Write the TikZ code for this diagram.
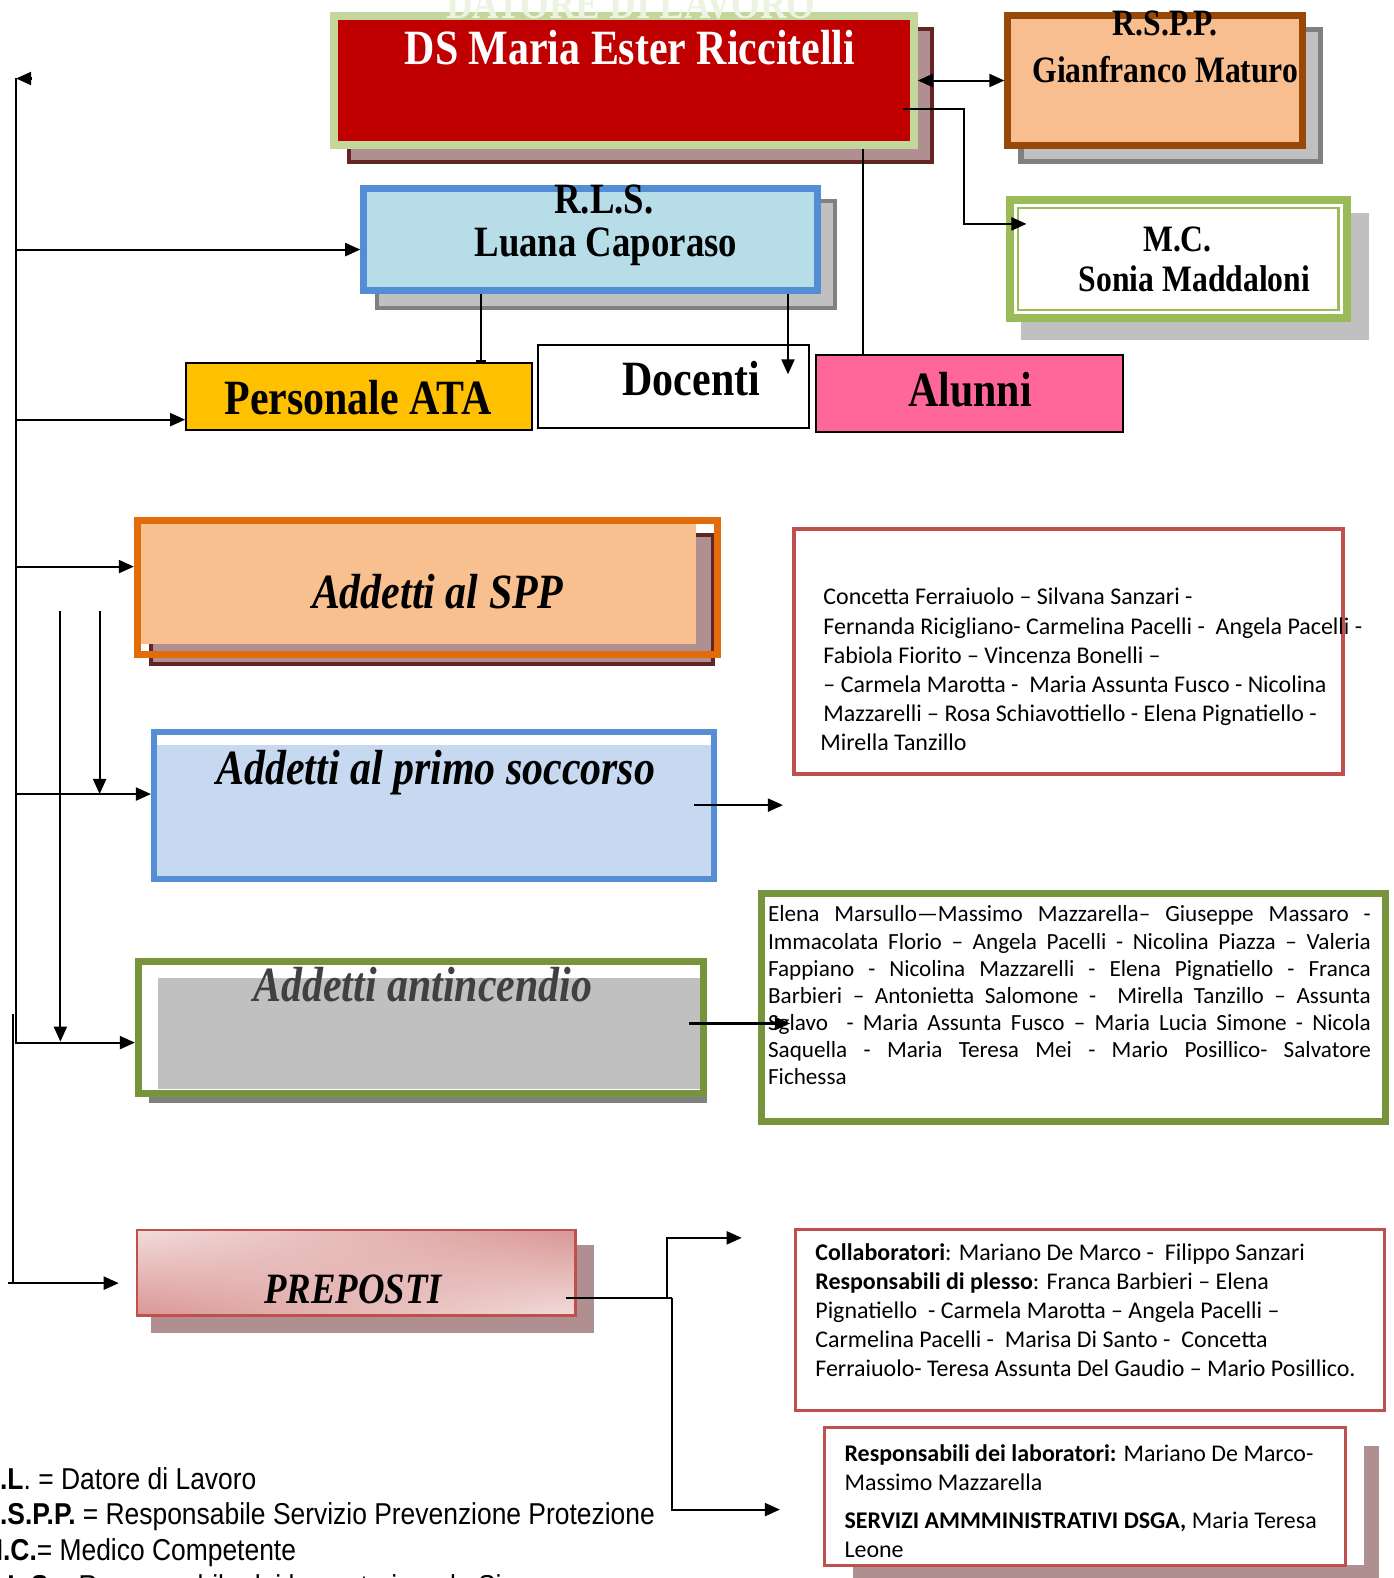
\documentclass[tikz,border=0pt]{standalone}
\usepackage{fontspec}
\setmainfont{Liberation Serif}
\newfontfamily\boxfont[FakeStretch=0.85]{Liberation Serif}
\newfontfamily\listfont{Carlito}
\newfontfamily\legendfont[FakeStretch=0.875]{Liberation Sans}
\usetikzlibrary{arrows.meta, shadings}
\definecolor{dsred}{HTML}{C00000}
\definecolor{dsgreen}{HTML}{C3D69B}
\definecolor{shadowrose}{HTML}{AF8F8F}
\definecolor{shadowmaroon}{HTML}{632523}
\definecolor{shadowgray}{HTML}{C0C0C0}
\definecolor{shadowdark}{HTML}{808080}
\definecolor{rsppbrown}{HTML}{984807}
\definecolor{rsppfill}{HTML}{F8BE90}
\definecolor{mcgreen}{HTML}{9BBB59}
\definecolor{rlsblue}{HTML}{538DD5}
\definecolor{rlsfill}{HTML}{B7DEE8}
\definecolor{atayellow}{HTML}{FFC000}
\definecolor{alunnipink}{HTML}{FF6699}
\definecolor{sppframe}{HTML}{E36C0A}
\definecolor{sppfill}{HTML}{F8BF8F}
\definecolor{soccblue}{HTML}{558ED5}
\definecolor{soccfill}{HTML}{C6D9F1}
\definecolor{antigreen}{HTML}{77933C}
\definecolor{prepred}{HTML}{C0504D}
\definecolor{preplight}{HTML}{F2DCDB}
\definecolor{prepdark}{HTML}{D99694}

\begin{document}
\begin{tikzpicture}[x=1pt, y=-1pt, >={Triangle[length=15pt,width=13pt]},
	box/.style = {draw, rectangle, inner sep=0pt},
	title/.style = {font=\boxfont\bfseries\fontsize{#1}{#1}\selectfont, anchor=base, inner sep=0pt},
	ititle/.style = {font=\boxfont\bfseries\itshape\fontsize{#1}{#1}\selectfont, anchor=base, inner sep=0pt},
	list/.style = {font=\listfont\fontsize{23.8}{29}\selectfont, anchor=base west, align=left, inner sep=0pt},
	legend/.style = {font=\legendfont\fontsize{30}{35}\selectfont, anchor=base west, inner sep=0pt},
	link/.style = {line width=2pt}]
	\useasboundingbox (0,0) rectangle (1385,1568);
	% datore di lavoro
	\filldraw[draw=shadowmaroon, fill=shadowrose, line width=4pt] (347,29) rectangle (926,161);
	\node[box, draw=dsgreen, fill=dsred, line width=8pt, minimum width=576pt, minimum height=128pt] (ds) at (620,80) {};
	\node[title=43, text=dsgreen!30] (datore) at (627,18) {DATORE DI LAVORO};
	\node[title=49, text=white] (dsname) at (626,64) {DS Maria Ester Riccitelli};
	% rspp
	\filldraw[draw=shadowdark, fill=shadowgray, line width=5pt] (1014.5,29.5) rectangle (1312.5,160.5);
	\node[box, draw=rsppbrown, fill=rsppfill, line width=7pt, minimum width=293pt, minimum height=129pt] (rspp) at (1148,80) {};
	\node[title=37] (rsppsigla) at (1158,35) {R.S.P.P.};
	\node[title=37] (rsppname) at (1158,82) {Gianfranco Maturo};
	% mc
	\fill[shadowgray] (1015,212) rectangle (1360,338);
	\node[box, draw=mcgreen, fill=white, line width=8pt, minimum width=334pt, minimum height=117pt] (mc) at (1171,257.5) {};
	\draw[mcgreen, line width=2pt] ([shift={(12pt,-12pt)}]mc.north west) rectangle ([shift={(-12pt,12pt)}]mc.south east);
	\node[title=37] (mcsigla) at (1170,250) {M.C.};
	\node[title=37] (mcname) at (1187,290) {Sonia Maddaloni};
	% rls
	\filldraw[draw=shadowdark, fill=shadowgray, line width=4pt] (375,200) rectangle (830,306);
	\node[box, draw=rlsblue, fill=rlsfill, line width=7pt, minimum width=451pt, minimum height=101pt] (rls) at (587,238) {};
	\node[title=43] (rlssigla) at (600,212) {R.L.S.};
	\node[title=43] (rlsname) at (602,255) {Luana Caporaso};
	% ata, docenti, alunni
	\node[box, fill=atayellow, line width=2pt, minimum width=344pt, minimum height=66pt] (ata) at (357,394) {};
	\node[title=49] (atatext) at (356,412) {Personale ATA};
	\node[box, fill=white, line width=2pt, minimum width=269pt, minimum height=82pt] (docenti) at (669.5,384) {};
	\node[title=49] (docentitext) at (687,393) {Docenti};
	\node[box, fill=alunnipink, line width=2pt, minimum width=305pt, minimum height=76pt] (alunni) at (963.5,391) {};
	\node[title=49] (alunnitext) at (964,404) {Alunni};
	% addetti
	\filldraw[draw=shadowmaroon, fill=shadowrose, line width=4pt] (150,532) rectangle (708,660);
	\fill[sppfill] (140,520) rectangle (692,640);
	\node[box, draw=sppframe, line width=7pt, minimum width=576pt, minimum height=133pt] (spp) at (424.5,584) {};
	\node[ititle=49] (spptext) at (435,605) {Addetti al SPP};
	\node[box, draw=soccblue, fill=soccfill, line width=6pt, minimum width=556pt, minimum height=146pt] (socc) at (431,800) {};
	\fill[white] (156,730) rectangle (706,740);
	\node[ititle=49] (socctext) at (433,780) {Addetti al primo soccorso};
	\fill[shadowdark] (148,962) rectangle (703,1096);
	\node[box, draw=antigreen, fill=white, line width=7pt, minimum width=562pt, minimum height=131pt] (anti) at (418.5,1021) {};
	\fill[shadowgray] (157,972) rectangle (696,1082);
	\node[ititle=49, text=black!75] (antitext) at (420,995) {Addetti antincendio};
	% preposti
	\fill[shadowrose] (150,1237) rectangle (590,1325);
	\node[box, draw=prepred, line width=2.5pt, upper left=preplight, lower right=preplight, upper right=prepdark, lower left=prepdark, minimum width=436pt, minimum height=85pt] (prep) at (354,1264.5) {};
	\node[ititle=43] (preptext) at (351,1295) {PREPOSTI};
	% elenchi (base = last line)
	\node[box, draw=prepred, line width=4pt, minimum width=545pt, minimum height=243pt] (spplist) at (1061.5,647.5) {};
	\node[list] (spplisttext) at (818,746) {Concetta Ferraiuolo – Silvana Sanzari -\\
		Fernanda Ricigliano- Carmelina Pacelli -\ \ Angela Pacelli -\\
		Fabiola Fiorito – Vincenza Bonelli –\\
		– Carmela Marotta -\ \ Maria Assunta Fusco - Nicolina\\
		Mazzarelli – Rosa Schiavottiello - Elena Pignatiello -\\
		\hspace*{-3pt}Mirella Tanzillo};
	\node[box, draw=antigreen, line width=7pt, minimum width=620pt, minimum height=227pt] (antilist) at (1066.5,1001) {};
	\node[list, font=\listfont\fontsize{23}{27}\selectfont] (antilisttext) at (763,1078) {%
		\makebox[599pt][s]{Elena Marsullo—Massimo Mazzarella– Giuseppe Massaro -}\\
		\makebox[599pt][s]{Immacolata Florio – Angela Pacelli - Nicolina Piazza – Valeria}\\
		\makebox[599pt][s]{Fappiano - Nicolina Mazzarelli - Elena Pignatiello - Franca}\\
		\makebox[599pt][s]{Barbieri – Antonietta Salomone -\ \ Mirella Tanzillo – Assunta}\\
		\makebox[599pt][s]{Sglavo\ \ - Maria Assunta Fusco – Maria Lucia Simone - Nicola}\\
		\makebox[599pt][s]{Saquella - Maria Teresa Mei - Mario Posillico- Salvatore}\\
		Fichessa};
	\node[box, draw=prepred, line width=3pt, minimum width=585pt, minimum height=180pt] (preplist) at (1083,1311.5) {};
	\node[list] (preplisttext) at (810,1368) {\textbf{Collaboratori}: Mariano De Marco -\ \ Filippo Sanzari\\
		\textbf{Responsabili di plesso}: Franca Barbieri – Elena\\
		Pignatiello\ \ - Carmela Marotta – Angela Pacelli –\\
		Carmelina Pacelli -\ \ Marisa Di Santo -\ \ Concetta\\
		Ferraiuolo- Teresa Assunta Del Gaudio – Mario Posillico.};
	\fill[shadowrose] (1355,1437) rectangle (1370,1578);
	\fill[shadowrose] (848,1555) rectangle (1370,1578);
	\node[box, draw=prepred, fill=white, line width=3pt, minimum width=517pt, minimum height=137pt] (lablist) at (1078,1487) {};
	\node[list] (lablisttext) at (839,1548) {\textbf{Responsabili dei laboratori:} Mariano De Marco-\\
		Massimo Mazzarella\\[9pt]
		\textbf{SERVIZI AMMMINISTRATIVI DSGA,} Maria Teresa\\
		Leone};
	% collegamenti
	\coordinate (bustop) at (16,78);
	\coordinate (busmid) at (16,1037);
	\coordinate (buslow) at (13,1008);
	\coordinate (busbot) at (13,1275);
	\draw[link] (busmid) -- (bustop);
	\draw[link] (buslow) -- (busbot);
	\draw[link,->] ([xshift=16pt]bustop) -- (bustop);
	\foreach \y/\target in {248/rls, 417/ata, 563/spp, 789/socc, 1036/anti}
		\draw[link,->] (16,\y) -- (\target.west |- 0,\y);
	\coordinate (prepin) at (118,1275);
	\draw[link,->] ([xshift=-5pt]busbot) -- (prepin);
	\foreach \x/\y in {60/1035, 99/789}
		\draw[link,->] (\x,607) -- (\x,\y);
	\draw[link,<->] (ds.east) -- (rspp.west);
	\draw[link,->] ([xshift=-15pt,yshift=-28pt]ds.east) -- ++(61,0) |- ([xshift=20pt,yshift=35pt]mc.west);
	\draw[link] (ds.south -| 858,0) -- (alunni.north -| 858,0);
	\draw[link,-{Bar[width=10pt]}] (rls.south -| 478,0) -- (ata.north -| 478,0);
	\coordinate (docin) at (783,372);
	\draw[link,->] (rls.south -| docin) -- (docin);
	\coordinate (soccend) at (778,800);
	\draw[link,->] ([xshift=-22pt]socc.east) -- (soccend);
	\draw[link,->] ([xshift=-18pt,yshift=4pt]anti.east) -- ([xshift=32pt,yshift=-16pt]antilist.west);
	\coordinate (forkup) at (663,1290);
	\coordinate (forkdown) at (668,1290);
	\coordinate (upend) at (737,1230);
	\coordinate (downend) at (775,1500);
	\draw[link] ([xshift=-11pt,yshift=-25.5pt]prep.east) -- (forkdown);
	\draw[link,->] (forkup) |- (upend);
	\draw[link,->] (forkdown) |- (downend);
	% legenda
	\node[legend] (legdl) at (-19,1480) {\textbf{D.L}. = Datore di Lavoro};
	\node[legend] (legrspp) at (-19,1515) {\textbf{R.S.P.P.} = Responsabile Servizio Prevenzione Protezione};
	\node[legend] (legmc) at (-19,1551) {\textbf{M.C.}= Medico Competente};
	\begin{scope}
		\clip (-30,1540) rectangle (528,1600);
		\node[legend] (legrls) at (-19,1586) {\textbf{R.L.S.}= Responsabile dei lavoratori per la Sicurezza};
	\end{scope}
\end{tikzpicture}
\end{document}
